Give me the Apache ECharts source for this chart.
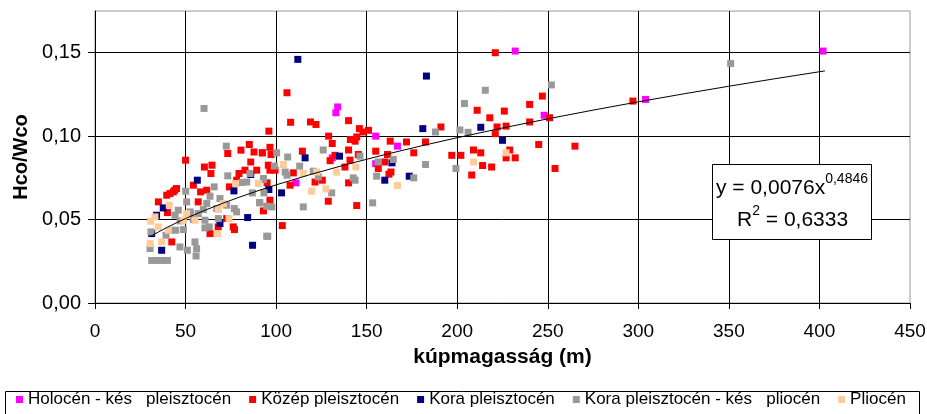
<!DOCTYPE html>
<html>
<head>
<meta charset="utf-8">
<script src="https://cdn.jsdelivr.net/npm/echarts@6/dist/echarts.min.js"></script>
<style>
  html, body { margin: 0; padding: 0; background: #ffffff; }
  #chart { width: 927px; height: 414px; }
</style>
</head>
<body>
<div id="chart"></div>
<script>
// Series names, in drawing order
const seriesNames = [
  'Holocén - kés   pleisztocén',
  'Közép pleisztocén',
  'Kora pleisztocén',
  'Kora pleisztocén - kés   pliocén',
  'Pliocén'
];

// [cone height (m), Hco/Wco]
const holocene = [
  [232, 0.151], [402, 0.151], [304, 0.122], [248, 0.1125], [134, 0.1175],
  [133, 0.114], [155, 0.100], [167, 0.094], [131, 0.087], [155, 0.0835], [111, 0.072]
];

const middlePleistocene = [
  [221, 0.150], [211, 0.1155], [218, 0.111], [226, 0.115], [240, 0.119], [247, 0.124],
  [240, 0.1085], [251, 0.111], [222, 0.1055], [227, 0.106], [221, 0.1015], [191, 0.1055],
  [245, 0.095], [265, 0.094], [297, 0.121], [197, 0.0885], [202, 0.0885], [209, 0.0917],
  [213, 0.090], [229, 0.0917], [227, 0.087], [232, 0.087], [214, 0.0824], [219, 0.0815],
  [208, 0.0767], [254, 0.0806],
  [106, 0.126], [108, 0.1083], [119, 0.1085], [122, 0.107], [140, 0.1093], [96, 0.103],
  [146, 0.1045], [151, 0.1035], [148, 0.1025], [129, 0.100], [141, 0.098], [144.5, 0.0995],
  [143.6, 0.097], [131, 0.0956], [163, 0.097], [172, 0.0965], [182.5, 0.0965], [114.5, 0.091],
  [140, 0.0917], [155, 0.091], [176, 0.090], [161.5, 0.089], [92.4, 0.090], [96.6, 0.0933],
  [97.2, 0.089], [132.5, 0.0885], [145.4, 0.089], [129.8, 0.0853], [140.8, 0.0856], [160, 0.0845],
  [156.4, 0.0806], [163.4, 0.0785], [162.3, 0.0772], [138, 0.0815], [95.7, 0.0826], [99.4, 0.0796],
  [96.6, 0.0796], [109.5, 0.078], [121.5, 0.0725], [125.5, 0.0736], [140, 0.072], [107.7, 0.0706],
  [95, 0.072], [128.8, 0.061], [144.5, 0.0584], [93, 0.0552], [103.4, 0.0464],
  [50, 0.0856], [60.4, 0.0815], [64.6, 0.0826], [64, 0.0776], [73.3, 0.0896], [80.6, 0.0916],
  [85.2, 0.095], [87.8, 0.0905], [92.4, 0.0900], [86, 0.0845], [79.5, 0.0776], [82.8, 0.0796],
  [74.2, 0.0696], [78.2, 0.0736], [54.3, 0.0706], [58.3, 0.0666], [61.7, 0.0676], [45, 0.0686],
  [41.4, 0.0656], [43.2, 0.0666], [35, 0.0606], [40, 0.0542], [57, 0.0606], [52.5, 0.0536],
  [63.5, 0.0416], [76.3, 0.0456], [77, 0.044], [42.4, 0.0366], [72.7, 0.0506], [96.6, 0.0616],
  [89.3, 0.0796], [68, 0.0456], [44, 0.0676], [39.6, 0.0646]
];

const earlyPleistocene = [
  [112, 0.146], [183, 0.136], [181, 0.1045], [116, 0.087], [135, 0.088], [164, 0.084],
  [173.5, 0.076], [160, 0.0736], [103, 0.066], [96, 0.068], [56.5, 0.0736], [37.7, 0.057],
  [76.7, 0.0672], [84.3, 0.0512], [87, 0.0346], [36.8, 0.0316], [69, 0.0476], [213, 0.1053],
  [225, 0.0975], [34, 0.0526], [31.3, 0.0416], [86, 0.077]
];

const earlyPleistocenePliocene = [
  [215.5, 0.1275], [204, 0.1195], [252, 0.1307], [201.5, 0.1037], [206, 0.1023], [199.3, 0.0806],
  [351, 0.1435],
  [188, 0.1025], [126, 0.0917], [106.4, 0.0875], [100.3, 0.090], [182.5, 0.083], [146.3, 0.088],
  [156.4, 0.0845], [164.7, 0.086], [176, 0.075], [155.5, 0.076], [143.6, 0.0736], [142.6, 0.075],
  [113, 0.082], [99, 0.0821], [105, 0.0785], [106, 0.0766], [120.5, 0.079], [123.3, 0.0756],
  [130.7, 0.066], [153.3, 0.060], [115, 0.0576], [95.4, 0.040], [97.6, 0.0576], [93, 0.074], [91, 0.060],
  [60.2, 0.1166], [72.5, 0.094], [85.6, 0.0776], [73.3, 0.0762], [50.1, 0.067], [50.6, 0.0606],
  [65.8, 0.0696], [81, 0.0722], [83.8, 0.0725], [93, 0.0746], [86.9, 0.066], [90.9, 0.0602],
  [94.8, 0.058], [94.8, 0.040], [72.7, 0.0586], [63.5, 0.064], [69, 0.0626], [59.8, 0.056],
  [52.5, 0.0546], [57, 0.0536], [46, 0.0556], [44.2, 0.0526], [47, 0.0492], [48.8, 0.044],
  [54.3, 0.050], [60.7, 0.0496], [60.7, 0.045], [63.1, 0.0456], [76.9, 0.0566], [78.2, 0.0546],
  [30.9, 0.0426], [30.4, 0.0326], [41.4, 0.0436], [44.5, 0.0436], [39.2, 0.0406], [46.9, 0.0336],
  [51, 0.0316], [56.1, 0.0326], [55.2, 0.0366], [55.8, 0.0282], [61.7, 0.0596], [67.2, 0.0566],
  [68.1, 0.0506], [93.3, 0.066], [31.3, 0.0255], [34, 0.0255], [37.6, 0.0255], [40, 0.0255]
];

const pliocene = [
  [227, 0.090], [209, 0.0845],
  [104, 0.083], [115, 0.0776], [122.4, 0.0785], [133.4, 0.0784], [144, 0.0815], [119.6, 0.067],
  [127.5, 0.0684], [167, 0.0704],
  [30.7, 0.049], [30.4, 0.0356], [33.1, 0.0516], [34.9, 0.0456], [36.8, 0.0366], [41, 0.0586],
  [40.5, 0.0436], [48.8, 0.0496], [55.2, 0.0496], [50.6, 0.0536], [68.1, 0.056], [67.7, 0.0416],
  [74, 0.0506], [77.6, 0.0716], [90.2, 0.0716], [70.8, 0.0596]
];

const seriesColors = ['#FF00FF', '#FF0000', '#000080', '#999999', '#FFCC99'];
const seriesData = [holocene, middlePleistocene, earlyPleistocene, earlyPleistocenePliocene, pliocene];

// Power trend line y = a * x^b and its R²
const trendCoef = 0.0076;
const trendExp = 0.4846;
const trendR2 = 0.6333;
const trendX = [31, 35, 40, 45, 50, 60, 70, 80, 90, 100, 120, 140, 160, 180, 200, 225, 250, 275, 300, 325, 350, 375, 403];

const fmt = (v, d) => v.toFixed(d).replace('.', ',');
const FONT = 'Liberation Sans, Arial, sans-serif';

const chart = echarts.init(document.getElementById('chart'), null, { renderer: 'canvas' });

const scatterSeries = seriesNames.map((name, i) => ({
  name: name,
  type: 'scatter',
  symbol: 'rect',
  symbolSize: 7,
  itemStyle: { color: seriesColors[i], opacity: 1 },
  emphasis: { disabled: true },
  data: seriesData[i]
}));

const trendSeries = {
  name: 'trend',
  type: 'line',
  showSymbol: false,
  symbol: 'none',
  smooth: false,
  lineStyle: { color: '#000', width: 1 },
  data: trendX.map(x => [x, trendCoef * Math.pow(x, trendExp)]),
  z: 5
};

const richEq = {
  m: { fontSize: 21, fontFamily: FONT, fill: '#000', verticalAlign: 'bottom', lineHeight: 27 },
  s: { fontSize: 14, fontFamily: FONT, fill: '#000', verticalAlign: 'top', lineHeight: 27 }
};

chart.setOption({
  animation: false,
  backgroundColor: '#ffffff',
  textStyle: { fontFamily: FONT },
  grid: {
    left: 95, right: 17, top: 11, bottom: 111,
    containLabel: false,
    outerBoundsMode: 'none',
    show: true, borderColor: '#999999', borderWidth: 1, backgroundColor: 'transparent'
  },
  legend: {
    data: seriesNames,
    left: 16,
    top: 391,
    icon: 'rect',
    itemWidth: 7,
    itemHeight: 7,
    itemGap: 18,
    padding: 0,
    textStyle: { fontSize: 17, color: '#000', fontFamily: FONT },
    selectedMode: false
  },
  xAxis: {
    type: 'value',
    min: 0, max: 450, interval: 50,
    name: 'kúpmagasság (m)',
    nameLocation: 'middle',
    nameGap: 44,
    nameTextStyle: { fontSize: 21, fontWeight: 'bold', color: '#000', fontFamily: FONT },
    axisLine: { show: true, onZero: false, lineStyle: { color: '#000', width: 1 } },
    axisTick: { show: true, inside: false, length: 6, lineStyle: { color: '#000' } },
    axisLabel: { fontSize: 19, color: '#000', margin: 19, fontFamily: FONT },
    splitLine: { show: true, showMaxLine: false, lineStyle: { color: '#000', width: 1 } }
  },
  yAxis: {
    type: 'value',
    min: 0, max: 0.175, interval: 0.05,
    name: 'Hco/Wco',
    nameLocation: 'middle',
    nameGap: 63,
    nameRotate: 90,
    nameTextStyle: { fontSize: 20, fontWeight: 'bold', color: '#000', fontFamily: FONT },
    axisLine: { show: true, onZero: false, lineStyle: { color: '#000', width: 1 } },
    axisTick: { show: true, inside: false, length: 7, lineStyle: { color: '#000' } },
    axisLabel: {
      fontSize: 20, color: '#000', margin: 14, fontFamily: FONT, showMaxLabel: false,
      formatter: v => (v > 0.16 ? '' : fmt(v, 2))
    },
    splitLine: { show: true, showMaxLine: false, lineStyle: { color: '#000', width: 1 } }
  },
  graphic: [
    {
      type: 'rect',
      left: 3, top: 389,
      shape: { width: 914, height: 24 },
      style: { fill: 'none', stroke: '#000', lineWidth: 1 },
      silent: true, z: 0
    },
    {
      type: 'rect',
      left: 712, top: 164,
      shape: { width: 159, height: 75 },
      style: { fill: '#fff', stroke: '#000', lineWidth: 1 },
      silent: true, z: 10
    },
    {
      type: 'text',
      left: 716, top: 172,
      style: {
        text: '{m|y = ' + fmt(trendCoef, 4) + 'x}{s|' + fmt(trendExp, 4) + '}',
        rich: richEq
      },
      silent: true, z: 11
    },
    {
      type: 'text',
      left: 737, top: 204,
      style: {
        text: '{m|R}{s|2}{m| = ' + fmt(trendR2, 4) + '}',
        rich: richEq
      },
      silent: true, z: 11
    }
  ],
  series: scatterSeries.concat([trendSeries])
});
</script>
</body>
</html>
